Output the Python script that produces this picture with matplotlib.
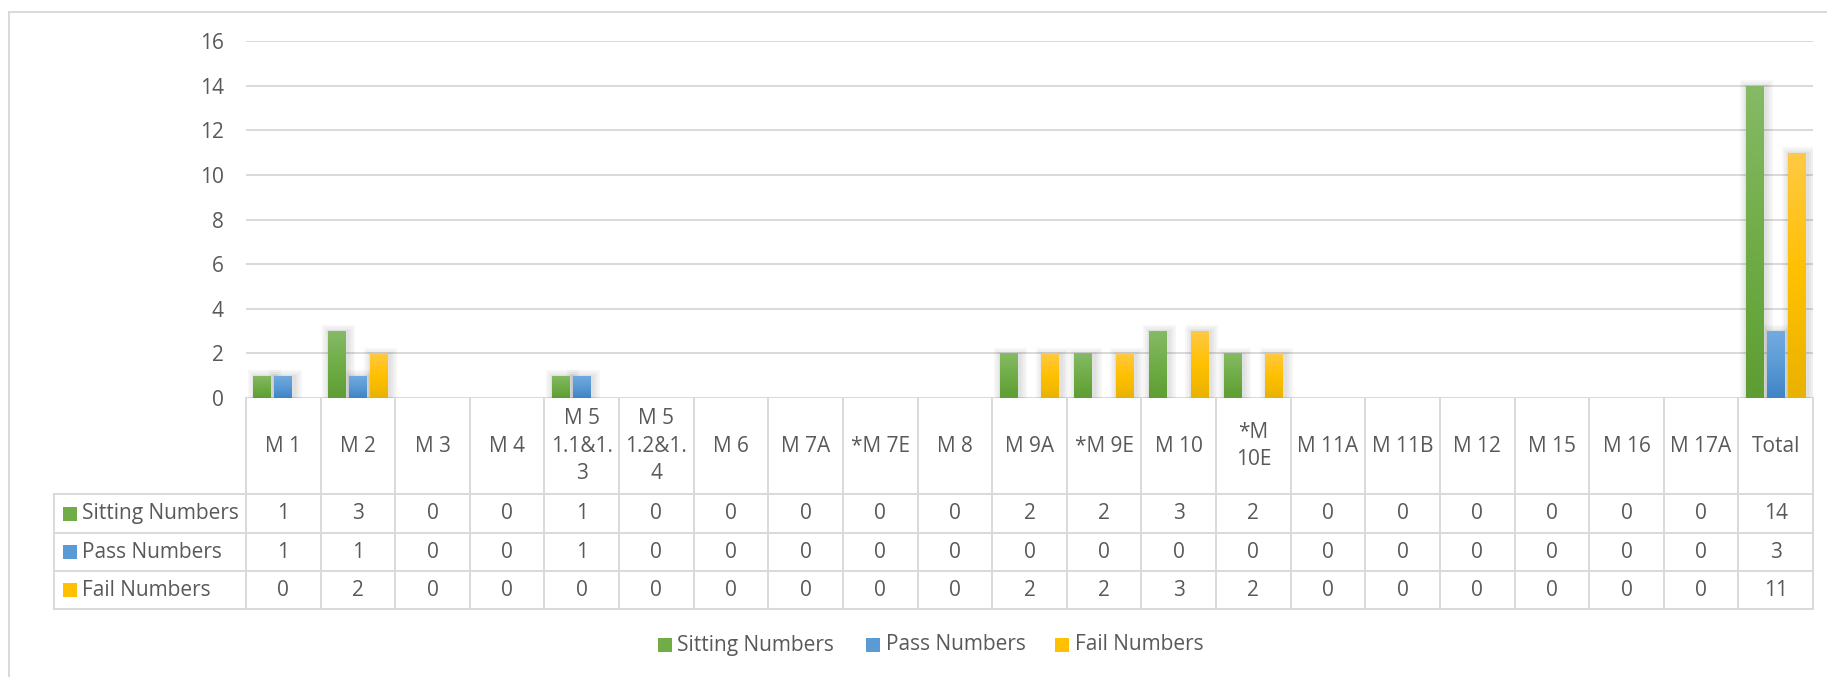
import matplotlib
matplotlib.use("Agg")
import matplotlib.pyplot as plt
import numpy as np
from matplotlib.colors import LinearSegmentedColormap
from matplotlib.lines import Line2D
from matplotlib.patches import Rectangle
import matplotlib.patheffects as pe
import matplotlib.transforms as mtrans

# ---------------- data ----------------
categories = ["M 1", "M 2", "M 3", "M 4", "M 5\n1.1&1.\n3", "M 5\n1.2&1.\n4", "M 6", "M 7A",
              "*M 7E", "M 8", "M 9A", "*M 9E", "M 10", "*M\n10E", "M 11A", "M 11B", "M 12",
              "M 15", "M 16", "M 17A", "Total"]
series_names = ["Sitting Numbers", "Pass Numbers", "Fail Numbers"]
sitting = [1, 3, 0, 0, 1, 0, 0, 0, 0, 0, 2, 2, 3, 2, 0, 0, 0, 0, 0, 0, 14]
passed = [1, 1, 0, 0, 1, 0, 0, 0, 0, 0, 0, 0, 0, 0, 0, 0, 0, 0, 0, 0, 3]
failed = [0, 2, 0, 0, 0, 0, 0, 0, 0, 0, 2, 2, 3, 2, 0, 0, 0, 0, 0, 0, 11]
yticks = [0, 2, 4, 6, 8, 10, 12, 14, 16]

series_values = [sitting, passed, failed]
grad_colors = [["#86BA66", "#70AD47", "#5E9D33"],
               ["#74AADF", "#5B9BD5", "#3F84C6"],
               ["#FFC945", "#FFC000", "#E9B200"]]
base_colors = ["#70AD47", "#5B9BD5", "#FFC000"]

W, H = 1827, 677
plt.rcParams['font.family'] = ['Open Sans', 'DejaVu Sans']
TXT = "#595959"
GRID = "#D9D9D9"
FS = 15

fig = plt.figure(figsize=(W / 100, H / 100), dpi=100)
def fx(px): return px / W
def fy(py): return 1 - py / H

L, R, T, B = 246, 1813, 41, 398
ax = fig.add_axes([fx(L), fy(B), (R - L) / W, (B - T) / H])
n = len(categories)
ax.set_xlim(-0.5, n - 0.5)
ax.set_ylim(0, 16)
for s in ax.spines.values():
    s.set_visible(False)
ax.set_xticks([])
ax.set_yticks(yticks)
ax.set_yticklabels([str(v) for v in yticks], fontsize=FS, color=TXT)
ax.tick_params(axis='y', length=0, pad=16)
for v in yticks:
    ax.axhline(v, color=GRID, lw=1.4, zorder=1)

x = np.arange(n)
offsets = [-0.28, 0.0, 0.28]
bw = 0.24
grad = np.linspace(1, 0, 256).reshape(-1, 1)
shadow = [pe.Stroke(linewidth=w, foreground="#404040", alpha=0.04, offset=(1, -1)) for w in (11, 8, 5, 3)]
for k, vals in enumerate(series_values):
    cmap = LinearSegmentedColormap.from_list("g%d" % k, grad_colors[k][::-1])
    bars = ax.bar(x + offsets[k], vals, width=bw, facecolor="none", edgecolor="none", zorder=2)
    for b, v in zip(bars, vals):
        if v <= 0:
            continue
        b.set_path_effects(shadow)
        x0 = b.get_x()
        im = ax.imshow(grad, extent=[x0, x0 + b.get_width(), 0, b.get_height()], aspect='auto',
                       cmap=cmap, vmin=0, vmax=1, zorder=3, interpolation='bilinear')
        im.set_clip_path(b)
ax.set_xlim(-0.5, n - 0.5)
ax.set_ylim(0, 16)

# ---------------- data table ----------------
blend = mtrans.blended_transform_factory(ax.transData, fig.transFigure)
rows_y = [398, 494, 533, 571, 609]
TL = 54
def fline(xs, ys, tr=fig.transFigure):
    fig.add_artist(Line2D(xs, ys, transform=tr, color=GRID, lw=1.4, clip_on=False))

for i in range(n + 1):
    fline([i - 0.5, i - 0.5], [fy(398), fy(609)], blend)
for yy in rows_y[1:]:
    fline([fx(TL), fx(R)], [fy(yy), fy(yy)])
fline([fx(TL), fx(TL)], [fy(494), fy(609)])

for i, c in enumerate(categories):
    t = fig.text(i, fy(446), c, ha='center', va='center', fontsize=FS, color=TXT, linespacing=1.38,
                 multialignment='center')
    t.set_transform(blend)

for r, (name, vals) in enumerate(zip(series_names, series_values)):
    yc = (rows_y[r + 1] + rows_y[r + 2]) / 2
    fig.add_artist(Rectangle((fx(63), fy(yc + 7)), 14 / W, 14 / H, transform=fig.transFigure,
                             facecolor=base_colors[r], edgecolor='none'))
    fig.text(fx(82), fy(yc), name, ha='left', va='center', fontsize=FS, color=TXT)
    for i, v in enumerate(vals):
        t = fig.text(i, fy(yc), str(v), ha='center', va='center', fontsize=FS, color=TXT)
        t.set_transform(blend)

# ---------------- legend ----------------
leg_pos = [(658, 677), (866, 886), (1055, 1075)]
for (sx, tx), name, col in zip(leg_pos, series_names, base_colors):
    fig.add_artist(Rectangle((fx(sx), fy(652)), 14 / W, 14 / H, transform=fig.transFigure,
                             facecolor=col, edgecolor='none'))
    fig.text(fx(tx), fy(645), name, ha='left', va='center', fontsize=FS, color=TXT)

# ---------------- outer frame ----------------
fline([fx(9), 1.0], [fy(12), fy(12)])
fline([fx(9), fx(9)], [fy(12), 0.0])

fig.savefig("out.png", dpi=100, facecolor="white")
